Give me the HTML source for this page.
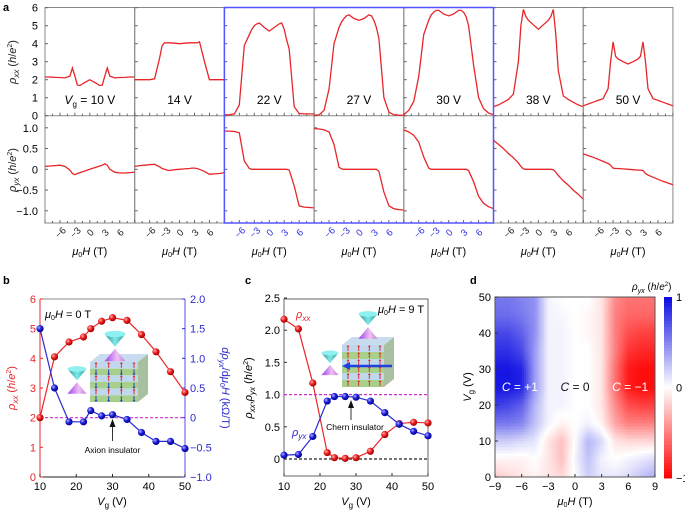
<!DOCTYPE html>
<html><head><meta charset="utf-8">
<style>
html,body{margin:0;padding:0;background:#fff;}
svg{display:block;font-family:"Liberation Sans",Arial,sans-serif;}
</style></head>
<body>
<svg id="fig" width="685" height="510" viewBox="0 0 685 510" xmlns="http://www.w3.org/2000/svg">
<defs>
<radialGradient id="gR" cx="35%" cy="35%" r="65%"><stop offset="0" stop-color="#ffb0b0"/><stop offset="0.5" stop-color="#ee2020"/><stop offset="1" stop-color="#a00000"/></radialGradient>
<radialGradient id="gB" cx="35%" cy="35%" r="65%"><stop offset="0" stop-color="#b0b0ff"/><stop offset="0.5" stop-color="#2020dd"/><stop offset="1" stop-color="#000090"/></radialGradient>
<linearGradient id="cone1" x1="0" x2="1"><stop offset="0" stop-color="#2a8a8a"/><stop offset="0.5" stop-color="#7fe8e8"/><stop offset="1" stop-color="#2a9a9a"/></linearGradient>
<linearGradient id="cone2" x1="0" x2="1"><stop offset="0" stop-color="#9a40ee"/><stop offset="0.6" stop-color="#f0c0f0"/><stop offset="1" stop-color="#c080e0"/></linearGradient>
</defs>
<g id="root"></g>
</svg>
<script>
// ---------- Panel a data ----------
const aH = [-9,-8,-7,-6,-5,-4,-3.5,-3,-2.5,-2,-1,0,1,2,2.5,3,3.5,4,5,6,7,8,9];
const aLabels = ["Vg = 10 V","14 V","22 V","27 V","30 V","38 V","50 V"];
const rxx10 = [2.15,2.15,2.13,2.12,2.1,2.2,2.65,2.2,1.7,1.68,1.85,2.0,1.85,1.68,1.7,2.2,2.65,2.2,2.1,2.12,2.13,2.15,2.15];
const rxx14 = [2.0,2.0,2.0,2.0,2.05,3.2,3.9,4.05,4.05,4.05,4.03,4.0,4.03,4.05,4.05,4.05,4.05,4.1,3.0,2.0,2.0,2.0,2.0];
const rxx22 = [0.05,0.05,0.1,0.6,3.9,4.5,4.8,5.0,5.1,5.15,4.9,4.7,4.9,5.1,5.15,4.8,4.2,3.7,0.5,0.12,0.1,0.1,0.1];
const rxx27 = [0.02,0.05,0.3,1.5,4.0,4.9,5.2,5.4,5.55,5.6,5.4,5.3,5.4,5.6,5.55,5.3,4.9,4.3,1.0,0.2,0.05,0.02,0.02];
const rxx30 = [0.05,0.3,0.8,2.2,4.5,5.3,5.6,5.75,5.85,5.85,5.65,5.55,5.65,5.85,5.85,5.75,5.5,5.0,2.8,1.0,0.4,0.15,0.05];
const rxx38 = [0.5,0.6,0.75,0.9,1.2,3.0,5.0,5.9,5.5,5.3,5.05,4.8,5.05,5.3,5.5,5.9,4.5,2.5,1.1,0.9,0.75,0.6,0.5];
const rxx50 = [0.55,0.65,0.75,0.85,0.95,1.5,3.0,4.1,3.3,3.15,3.0,2.87,3.0,3.15,3.3,4.1,3.0,1.5,0.95,0.85,0.75,0.65,0.55];
const ryx10 = [0.07,0.08,0.09,0.1,0.07,-0.02,-0.1,-0.13,-0.1,-0.08,-0.04,0.0,0.04,0.08,0.1,0.13,0.1,0.0,-0.07,-0.09,-0.09,-0.08,-0.07];
const ryx14 = [0.07,0.09,0.1,0.11,0.12,0.06,0.02,0.0,-0.02,-0.03,-0.01,0.0,0.01,0.02,0.03,0.03,0.02,0.0,-0.05,-0.12,-0.11,-0.1,-0.08];
const ryx22 = [0.92,0.92,0.91,0.88,0.2,0.02,0,0,0,0,0,0,0,0,0,0,0,-0.02,-0.4,-0.88,-0.91,-0.92,-0.93];
const ryx27 = [0.98,0.97,0.95,0.9,0.6,0.05,0.01,0,0,0,0,0,0,0,0,0,0,-0.05,-0.55,-0.88,-0.95,-0.97,-0.98];
const ryx30 = [0.95,0.9,0.82,0.65,0.3,0.03,0,0,0,0,0,0,0,0,0,0,-0.0,-0.03,-0.3,-0.65,-0.82,-0.9,-0.95];
const ryx38 = [0.7,0.6,0.5,0.38,0.28,0.15,0.07,0.01,0,0,0,0,0,0,0,-0.01,-0.07,-0.15,-0.28,-0.38,-0.5,-0.6,-0.72];
const ryx50 = [0.37,0.33,0.29,0.24,0.19,0.14,0.1,0.03,0.02,0.02,0.01,0,-0.01,-0.02,-0.02,-0.03,-0.1,-0.14,-0.19,-0.24,-0.29,-0.33,-0.37];
const rxxAll = [rxx10,rxx14,rxx22,rxx27,rxx30,rxx38,rxx50];
const ryxAll = [ryx10,ryx14,ryx22,ryx27,ryx30,ryx38,ryx50];
const aXTicks = [-6,-3,0,3,6];
const aTopTicks = [0,1,2,3,4,5,6];
const aBotTicks = [1.0,0.5,0,-0.5,-1.0];

// ---------- Panel b data ----------
const bVg = [10,14,18,22,24,27,30,34,38,42,46,50];
const bRxx = [2.0,4.05,4.55,4.72,5.0,5.25,5.37,5.28,4.8,4.22,3.55,2.85];
const bDrdH = [1.5,0.5,-0.07,-0.07,0.12,0.03,0.05,-0.03,-0.25,-0.4,-0.4,-0.52];
const bLeftTicks = [0,1,2,3,4,5,6];
const bRightTicks = [-1.0,-0.5,0,0.5,1.0,1.5,2.0];
const bXTicks = [10,20,30,40,50];

// ---------- Panel c data ----------
const cVg = [10,14,18,22,24,27,30,34,38,42,46,50];
const cRxx = [2.17,2.02,1.18,0.1,0.02,0.01,0.02,0.12,0.38,0.55,0.57,0.56];
const cRyx = [0.06,0.07,0.35,0.9,0.97,0.97,0.96,0.9,0.72,0.54,0.43,0.36];
const cYTicks = [0,0.5,1.0,1.5,2.0,2.5];
const cXTicks = [10,20,30,40,50];

// ---------- Panel d data ----------
const dH = [-9,-7.5,-6,-4.5,-3,-1.5,0,1.5,3,4.5,6,7.5,9];
const dV = [0,5,10,15,20,25,30,35,40,45,50];
const dZ = [
 [-0.2,-0.15,-0.1,-0.05,-0.1,-0.15,0,0.2,0.1,0.1,0.15,0.25,0.35],
 [-0.05,-0.05,-0.05,0,-0.1,-0.25,0.05,0.25,0.05,0,0.05,0.1,0.15],
 [0.2,0.2,0.15,0.1,-0.1,-0.25,0,0.3,0.15,-0.1,-0.15,-0.15,-0.15],
 [0.55,0.55,0.5,0.25,0.05,-0.05,0,0.05,-0.05,-0.35,-0.5,-0.5,-0.5],
 [0.8,0.75,0.65,0.3,0.05,0.05,0,0,-0.1,-0.45,-0.7,-0.75,-0.75],
 [0.95,0.95,0.9,0.4,0.05,0.05,0,0,-0.1,-0.55,-0.9,-0.95,-0.95],
 [0.95,0.95,0.9,0.4,0.05,0.05,0,0,-0.1,-0.55,-0.9,-0.95,-0.95],
 [0.85,0.85,0.75,0.4,0.05,0.05,0,0,-0.1,-0.5,-0.8,-0.85,-0.85],
 [0.75,0.75,0.65,0.45,0.05,0.05,0,-0.03,-0.1,-0.5,-0.7,-0.75,-0.75],
 [0.6,0.6,0.55,0.45,0.05,0.03,0,-0.03,-0.1,-0.5,-0.6,-0.6,-0.6],
 [0.55,0.55,0.5,0.45,0.05,0,0,0,-0.1,-0.45,-0.55,-0.55,-0.55]
];
const dXTicks = [-9,-6,-3,0,3,6,9];
const dYTicks = [0,10,20,30,40,50];

const NS="http://www.w3.org/2000/svg";
const root=document.getElementById('root');
function el(tag,attrs,parent,txt){const e=document.createElementNS(NS,tag);for(const k in attrs)e.setAttribute(k,attrs[k]);if(txt!==undefined)e.textContent=txt;(parent||root).appendChild(e);return e;}
function fmt(v){if(v===0)return "0";let s=Math.abs(v)%1===0&&[1,-1,-0.5,0.5,1.5,2,2.5,-1.0].includes(v)?v.toFixed(1):String(v);return s.replace('-','\u2212');}
const RED="#e8262a", BLUE="#2a2ad0";

// ===== Panel a =====
const aX0=45, aW=89.7, aTop=7.5, aMid=115.7, aBot=223;
function axx(i,h){return aX0+i*aW+(h+9)/18*aW;}
function ayxx(v){return aMid-v*18;}
function ayyx(v){return 169.3-v*41.5;}
let t=el('text',{x:3,y:11,'font-size':11,'font-weight':'bold'},root,'a');

for(let i=0;i<7;i++){
  const g=el('g',{});
  
  
  const x0=aX0+i*aW, blue=(i>=2&&i<=4);
  el('rect',{x:x0,y:aTop,width:aW,height:aBot-aTop,fill:'none',stroke:'#888','stroke-width':1},g);
  el('line',{x1:x0,x2:x0+aW,y1:aMid,y2:aMid,stroke:'#888'},g);
  for(let k=0;k<=6;k++){const y=ayxx(k);el('line',{x1:x0,x2:x0+3,y1:y,y2:y,stroke:'#666'},g);}
  for(const v of [1,0.5,0,-0.5,-1]){const y=ayyx(v);el('line',{x1:x0,x2:x0+3,y1:y,y2:y,stroke:'#666'},g);}
  for(const h of [-9,-7.5,-6,-4.5,-3,-1.5,0,1.5,3,4.5,6,7.5,9]){const x=axx(i,h);el('line',{x1:x,x2:x,y1:aBot,y2:aBot-(h%3===0?3:2),stroke:'#666'},g);el('line',{x1:x,x2:x,y1:aMid,y2:aMid-(h%3===0?3:2),stroke:'#666'},g);}
  for(const h of aXTicks){const x=axx(i,h);
    const tl=el('text',{x:x,y:236,'font-size':9.5,'text-anchor':'middle',fill:blue?'#3030e0':'#222',transform:`rotate(-45 ${x} 232)`},g,fmt(h));
    }
  const xl=el('text',{x:x0+aW/2,y:255,'font-size':11,'text-anchor':'middle'},g);
  
  el('tspan',{'font-style':'italic'},xl,'\u03bc');el('tspan',{'font-size':7,dy:2},xl,'0');el('tspan',{'font-style':'italic',dy:-2},xl,'H');el('tspan',{},xl,' (T)');
  const p1=rxxAll[i].map((v,j)=>`${j?'L':'M'}${axx(i,aH[j]).toFixed(1)},${ayxx(v).toFixed(1)}`).join('');
  const c1=el('path',{d:p1,fill:'none',stroke:RED,'stroke-width':1.3},g);
  
  const p2=ryxAll[i].map((v,j)=>`${j?'L':'M'}${axx(i,aH[j]).toFixed(1)},${ayyx(v).toFixed(1)}`).join('');
  const c2=el('path',{d:p2,fill:'none',stroke:RED,'stroke-width':1.3},g);
  
  const lb=el('text',{x:x0+aW/2,y:104,'font-size':12,'text-anchor':'middle'},g);
  
  if(i===0){el('tspan',{'font-style':'italic'},lb,'V');el('tspan',{'font-size':8,dy:3},lb,'g');el('tspan',{dy:-3},lb,' = 10 V');}
  else lb.textContent=aLabels[i];
}
const bf=el('rect',{x:axx(2,-9),y:aTop,width:3*aW,height:aBot-aTop,fill:'none',stroke:'#5555ff','stroke-width':1.5});

for(const v of aTopTicks){const tt=el('text',{x:38,y:ayxx(v)+4,'font-size':11,'text-anchor':'end'},root,String(v));}
for(const v of aBotTicks){const tt=el('text',{x:38,y:ayyx(v)+4,'font-size':11,'text-anchor':'end'},root,fmt(v));}
function rho(x,y,sub,color){const tx=el('text',{x:x,y:y,'font-size':11,'text-anchor':'middle',fill:color,transform:`rotate(-90 ${x} ${y})`});
 el('tspan',{'font-style':'italic'},tx,'\u03c1');el('tspan',{'font-style':'italic','font-size':8,dy:3},tx,sub);el('tspan',{dy:-3},tx,' (');el('tspan',{'font-style':'italic'},tx,'h');el('tspan',{},tx,'/');el('tspan',{'font-style':'italic'},tx,'e');el('tspan',{'font-size':7,dy:-4},tx,'2');el('tspan',{dy:4},tx,')');return tx;}
let yt=rho(16,62,'xx','#222');
yt=rho(16,170,'yx','#222');

// ===== Panel b =====
const bL=40,bR=185,bT=299,bB=477;
function bx(v){return bL+(v-10)/40*(bR-bL);}
function byL(v){return bB-v*(bB-bT)/6;}
function byR(v){return bB-(v+1)*(bB-bT)/3;}
t=el('text',{x:3,y:284,'font-size':11,'font-weight':'bold'},root,'b');
el('line',{x1:bL,x2:bR,y1:bT,y2:bT,stroke:'#888'});
el('line',{x1:bL,x2:bR,y1:bB,y2:bB,stroke:'#222'});
el('line',{x1:bL,x2:bL,y1:bT,y2:bB,stroke:RED});
el('line',{x1:bR,x2:bR,y1:bT,y2:bB,stroke:'#5050ee'});
for(const v of bLeftTicks){el('line',{x1:bL,x2:bL+3,y1:byL(v),y2:byL(v),stroke:RED});const tt=el('text',{x:bL-4,y:byL(v)+4,'font-size':11,'text-anchor':'end',fill:RED},root,String(v));}
for(const v of bRightTicks){el('line',{x1:bR,x2:bR-3,y1:byR(v),y2:byR(v),stroke:BLUE});const tt=el('text',{x:bR+5,y:byR(v)+4,'font-size':11,fill:BLUE},root,fmt(v));}
for(const v of bXTicks){el('line',{x1:bx(v),x2:bx(v),y1:bB,y2:bB-3,stroke:'#222'});const tt=el('text',{x:bx(v),y:490,'font-size':11,'text-anchor':'middle'},root,String(v));}
function vgTitle(x,y,name){const tx=el('text',{x:x,y:y,'font-size':11,'text-anchor':'middle'});el('tspan',{'font-style':'italic'},tx,'V');el('tspan',{'font-size':8,dy:3},tx,'g');el('tspan',{dy:-3},tx,' (V)');}
vgTitle(112,505,'x-axis-title');
yt=rho(15,388,'xx',RED);
const rt=el('text',{x:222,y:388,'font-size':11,'text-anchor':'middle',fill:BLUE,transform:'rotate(90 222 388)'});

el('tspan',{'font-style':'italic'},rt,'d\u03c1');el('tspan',{'font-style':'italic','font-size':8,dy:3},rt,'yx');el('tspan',{dy:-3},rt,'/d');el('tspan',{'font-style':'italic'},rt,'\u03bc');el('tspan',{'font-size':7,dy:2},rt,'0');el('tspan',{'font-style':'italic',dy:-2},rt,'H');el('tspan',{},rt,' (k\u03a9/T)');
el('line',{x1:bL,x2:bR,y1:byL(2),y2:byL(2),stroke:'#d030d0','stroke-dasharray':'3,2','stroke-width':1.2});
function cube(x,y,w,h,name,arrows){const g=el('g',{});
 el('polygon',{points:`${x},${y} ${x+w},${y} ${x+w+10},${y-8} ${x+10},${y-8}`,fill:'#c8dcf0'},g);
 el('polygon',{points:`${x+w},${y} ${x+w+10},${y-8} ${x+w+10},${y+h-8} ${x+w},${y+h}`,fill:'#a8c0a0'},g);
 const n=6;for(let k=0;k<n;k++){el('rect',{x:x,y:y+k*h/n,width:w,height:h/n,fill:k%2?'#a8d08a':'#c0d8ee'},g);}
 for(let k=0;k<n;k++)for(let c=0;c<4;c++){const cx=x+6+c*(w-10)/3, cy=y+k*h/n+h/n/2;const up=arrows?(k%2===0):true;
  el('line',{x1:cx,x2:cx,y1:cy+2.5,y2:cy-2.5,stroke:up?'#e03030':'#2040c0','stroke-width':1},g);
  el('polygon',{points:up?`${cx-1.5},${cy-1.5} ${cx+1.5},${cy-1.5} ${cx},${cy-3.5}`:`${cx-1.5},${cy+1.5} ${cx+1.5},${cy+1.5} ${cx},${cy+3.5}`,fill:up?'#e03030':'#2040c0'},g);}
 return g;}
function cones(x,y,s,name){const g=el('g',{});
 el('polygon',{points:`${x-s},${y} ${x+s},${y} ${x},${y+s*1.2}`,fill:'url(#cone1)'},g);el('ellipse',{cx:x,cy:y,rx:s,ry:s*0.3,fill:'#8ff0f0'},g);
 el('polygon',{points:`${x-s},${y+s*2.6} ${x+s},${y+s*2.6} ${x},${y+s*1.4}`,fill:'url(#cone2)'},g);return g;}
cube(90,362,48,40,'axion-insulator-cube',true);
cones(115,334,10.5,'surface-dirac-cone');
cones(77,369,9.5,'gapped-dirac-cone');
let ptsB=bVg.map((v,j)=>`${bx(v)},${byL(bRxx[j])}`).join(' ');
let l=el('polyline',{points:ptsB,fill:'none',stroke:RED,'stroke-width':1.2});
bVg.forEach((v,j)=>{const c=el('circle',{cx:bx(v),cy:byL(bRxx[j]),r:3.6,fill:'url(#gR)'});});
ptsB=bVg.map((v,j)=>`${bx(v)},${byR(bDrdH[j])}`).join(' ');
l=el('polyline',{points:ptsB,fill:'none',stroke:BLUE,'stroke-width':1.2});
bVg.forEach((v,j)=>{const c=el('circle',{cx:bx(v),cy:byR(bDrdH[j]),r:3.6,fill:'url(#gB)'});});
t=el('text',{x:45,y:318,'font-size':11});
el('tspan',{'font-style':'italic'},t,'\u03bc');el('tspan',{'font-size':7,dy:2},t,'0');el('tspan',{'font-style':'italic',dy:-2},t,'H');el('tspan',{},t,' = 0 T');
el('line',{x1:bx(30),x2:bx(30),y1:441,y2:425,stroke:'#333'});el('polygon',{points:`${bx(30)-3},${427} ${bx(30)+3},${427} ${bx(30)},${419}`,fill:'#111'});
t=el('text',{x:bx(30),y:453,'font-size':8.5,'text-anchor':'middle'},root,'Axion insulator');

// ===== Panel c =====
const cL=284,cR=428,cT=299,cB=476;
function cx_(v){return cL+(v-10)/40*(cR-cL);}
function cy_(v){return 459-v*64.4;}
t=el('text',{x:245,y:284,'font-size':11,'font-weight':'bold'},root,'c');
el('rect',{x:cL,y:cT,width:cR-cL,height:cB-cT,fill:'none',stroke:'#666'});
for(const v of cYTicks){el('line',{x1:cL,x2:cL+3,y1:cy_(v),y2:cy_(v),stroke:'#333'});const tt=el('text',{x:cL-4,y:cy_(v)+4,'font-size':11,'text-anchor':'end'},root,fmt(v));}
for(const v of cXTicks){el('line',{x1:cx_(v),x2:cx_(v),y1:cB,y2:cB-3,stroke:'#333'});const tt=el('text',{x:cx_(v),y:490,'font-size':11,'text-anchor':'middle'},root,String(v));}
vgTitle(356,505,'x-axis-title');
t=el('text',{x:252,y:388,'font-size':11,'text-anchor':'middle',transform:'rotate(-90 252 388)'});
el('tspan',{'font-style':'italic'},t,'\u03c1');el('tspan',{'font-style':'italic','font-size':8,dy:3},t,'xx');el('tspan',{dy:-3},t,',');el('tspan',{'font-style':'italic'},t,'\u03c1');el('tspan',{'font-style':'italic','font-size':8,dy:3},t,'yx');el('tspan',{dy:-3},t,' (');el('tspan',{'font-style':'italic'},t,'h');el('tspan',{},t,'/');el('tspan',{'font-style':'italic'},t,'e');el('tspan',{'font-size':7,dy:-4},t,'2');el('tspan',{dy:4},t,')');
el('line',{x1:cL,x2:cR,y1:cy_(1),y2:cy_(1),stroke:'#d030d0','stroke-dasharray':'3,2','stroke-width':1.2});
el('line',{x1:cL,x2:cR,y1:cy_(0),y2:cy_(0),stroke:'#222','stroke-dasharray':'3,2','stroke-width':1.2});
cube(342,345,42,42,'chern-insulator-cube',false);
const ar=el('g',{});
el('line',{x1:392,x2:348,y1:366,y2:366,stroke:'#2040e0','stroke-width':2.5},ar);el('polygon',{points:'342,366 350,362 350,370',fill:'#2040e0'},ar);
cones(368,314,9.5,'surface-dirac-cone-c');
cones(330,353,8.5,'gapped-dirac-cone-c');
let pc=cVg.map((v,j)=>`${cx_(v)},${cy_(cRxx[j])}`).join(' ');
l=el('polyline',{points:pc,fill:'none',stroke:RED,'stroke-width':1.2});
cVg.forEach((v,j)=>{const c=el('circle',{cx:cx_(v),cy:cy_(cRxx[j]),r:3.6,fill:'url(#gR)'});});
pc=cVg.map((v,j)=>`${cx_(v)},${cy_(cRyx[j])}`).join(' ');
l=el('polyline',{points:pc,fill:'none',stroke:BLUE,'stroke-width':1.2});
cVg.forEach((v,j)=>{const c=el('circle',{cx:cx_(v),cy:cy_(cRyx[j]),r:3.6,fill:'url(#gB)'});});
t=el('text',{x:296,y:318,'font-size':11,fill:RED});el('tspan',{'font-style':'italic'},t,'\u03c1');el('tspan',{'font-style':'italic','font-size':8,dy:3},t,'xx');
t=el('text',{x:292,y:436,'font-size':11,fill:BLUE});el('tspan',{'font-style':'italic'},t,'\u03c1');el('tspan',{'font-style':'italic','font-size':8,dy:3},t,'yx');
t=el('text',{x:378,y:313,'font-size':11});
el('tspan',{'font-style':'italic'},t,'\u03bc');el('tspan',{'font-size':7,dy:2},t,'0');el('tspan',{'font-style':'italic',dy:-2},t,'H');el('tspan',{},t,' = 9 T');
el('line',{x1:351,x2:351,y1:420,y2:406,stroke:'#333'});el('polygon',{points:'348,408 354,408 351,400',fill:'#111'});
t=el('text',{x:355,y:430,'font-size':8.5,'text-anchor':'middle'},root,'Chern insulator');

// ===== Panel d =====
const dL=495,dR=655,dT=297,dB=477;
function dx(h){return dL+(h+9)/18*(dR-dL);}
function dy(v){return dB-v/50*(dB-dT);}
function col(v){v=Math.max(-1,Math.min(1,v));if(v>=0){const f=v;return `rgb(${Math.round(255-245*f)},${Math.round(255-245*f)},${Math.round(255-30*f)})`;}const f=-v;return `rgb(255,${Math.round(255-255*f)},${Math.round(255-255*f)})`;}
t=el('text',{x:470,y:284,'font-size':11,'font-weight':'bold'},root,'d');
const hm=el('g',{});
const SUB=6;
for(let r=0;r<dV.length-1;r++)for(let c=0;c<dH.length-1;c++){
 for(let a=0;a<SUB;a++)for(let b=0;b<SUB;b++){
  const fa=(a+0.5)/SUB, fb=(b+0.5)/SUB;
  const z=dZ[r][c]*(1-fa)*(1-fb)+dZ[r][c+1]*fa*(1-fb)+dZ[r+1][c]*(1-fa)*fb+dZ[r+1][c+1]*fa*fb;
  const h0=dH[c]+(dH[c+1]-dH[c])*a/SUB, h1=dH[c]+(dH[c+1]-dH[c])*(a+1)/SUB;
  const v0=dV[r]+(dV[r+1]-dV[r])*b/SUB, v1=dV[r]+(dV[r+1]-dV[r])*(b+1)/SUB;
  el('rect',{x:dx(h0).toFixed(2),y:dy(v1).toFixed(2),width:(dx(h1)-dx(h0)+0.4).toFixed(2),height:(dy(v0)-dy(v1)+0.4).toFixed(2),fill:col(z)},hm);
 }}
el('rect',{x:dL,y:dT,width:dR-dL,height:dB-dT,fill:'none',stroke:'#555'});
for(const h of dXTicks){el('line',{x1:dx(h),x2:dx(h),y1:dB,y2:dB-3,stroke:'#333'});const tt=el('text',{x:dx(h),y:490,'font-size':11,'text-anchor':'middle'},root,fmt(h));}
for(const v of dYTicks){el('line',{x1:dL,x2:dL+3,y1:dy(v),y2:dy(v),stroke:'#333'});const tt=el('text',{x:dL-4,y:dy(v)+4,'font-size':11,'text-anchor':'end'},root,String(v));}
t=el('text',{x:dx(0),y:505,'font-size':11,'text-anchor':'middle'});
el('tspan',{'font-style':'italic'},t,'\u03bc');el('tspan',{'font-size':7,dy:2},t,'0');el('tspan',{'font-style':'italic',dy:-2},t,'H');el('tspan',{},t,' (T)');
t=el('text',{x:471,y:387,'font-size':11,'text-anchor':'middle',transform:'rotate(-90 471 387)'});
el('tspan',{'font-style':'italic'},t,'V');el('tspan',{'font-size':8,dy:3},t,'g');el('tspan',{dy:-3},t,' (V)');
function cLabel(x,txt,fill,name){const tt=el('text',{x:x,y:391,'font-size':12,'text-anchor':'middle',fill:fill});el('tspan',{'font-style':'italic'},tt,'C');el('tspan',{},tt,txt);}
cLabel(dx(-6.2),' = +1','#fff','chern-plus-one-label');
cLabel(dx(0),' = 0','#111','chern-zero-label');
cLabel(dx(6.2),' = \u22121','#fff','chern-minus-one-label');
const cb=el('g',{});
const cbT=297,cbB=478,cbN=60;
for(let k=0;k<cbN;k++){const v=1-2*(k+0.5)/cbN;el('rect',{x:664,y:cbT+k*(cbB-cbT)/cbN,width:8,height:(cbB-cbT)/cbN+0.5,fill:col(v)},cb);}
[[1,'1'],[0,'0'],[-1,'\u22121']].forEach(([v,s])=>{const tt=el('text',{x:676,y:cbT+(1-v)/2*(cbB-cbT)+4,'font-size':11},root,s);});
t=el('text',{x:632,y:290,'font-size':10});
el('tspan',{'font-style':'italic'},t,'\u03c1');el('tspan',{'font-style':'italic','font-size':7,dy:3},t,'yx');el('tspan',{dy:-3},t,' (');el('tspan',{'font-style':'italic'},t,'h');el('tspan',{},t,'/');el('tspan',{'font-style':'italic'},t,'e');el('tspan',{'font-size':6,dy:-4},t,'2');el('tspan',{dy:4},t,')');
</script>
</body></html>
